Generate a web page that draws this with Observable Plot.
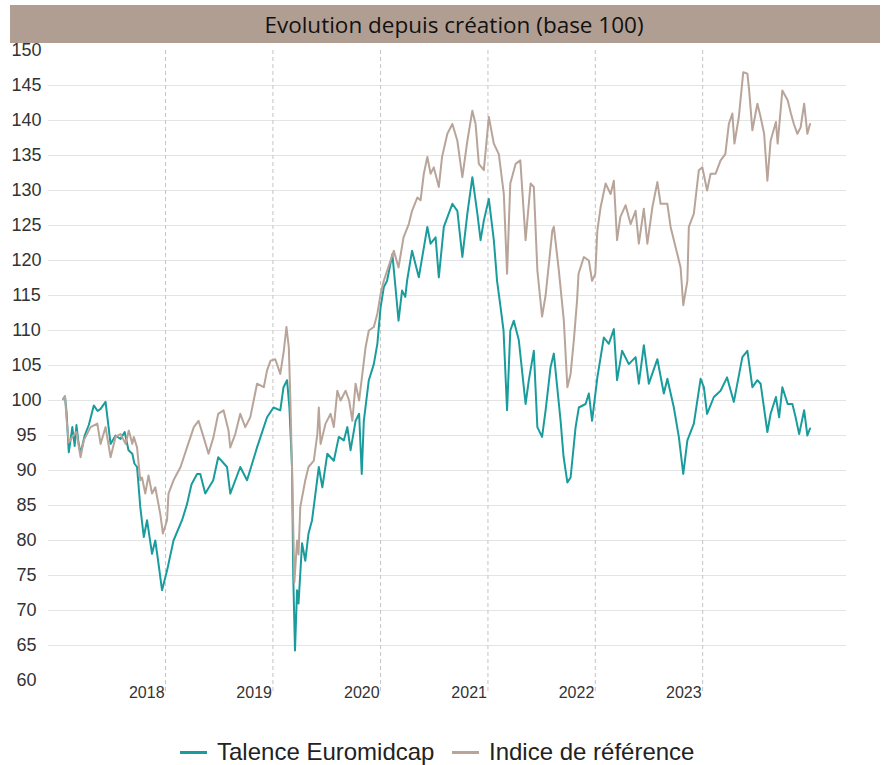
<!DOCTYPE html>
<html>
<head>
<meta charset="utf-8">
<script src="https://cdn.jsdelivr.net/npm/d3@7"></script>
<script src="https://cdn.jsdelivr.net/npm/@observablehq/plot@0.6"></script>
<style>
  html, body { margin: 0; padding: 0; background: #fff; }
  body { width: 891px; height: 765px; position: relative; overflow: hidden; font-family: "Liberation Sans", Arial, sans-serif; }
  #title { position: absolute; z-index: 2; left: 10px; top: 5px; width: 870px; height: 38px; background: #b19e92; color: #111;
           font-family: "Open Sans", sans-serif; font-size: 22.5px; line-height: 40px; text-align: center; padding-left: 18px; box-sizing: border-box; }
  #chart { position: absolute; z-index: 1; left: 0; top: 30px; }
  #chart svg { overflow: visible; }
  #legend { position: absolute; left: 0; top: 737px; width: 891px; height: 30px; line-height: 30px; font-size: 24px; color: #222; }
  .item { position: absolute; top: 0; white-space: nowrap; }
  .sw { display: inline-block; width: 27px; height: 2.5px; vertical-align: middle; margin-right: 10px; position: relative; top: -1px; }
</style>
</head>
<body>
<div id="title">Evolution depuis création (base 100)</div>
<div id="chart"></div>
<div id="legend"></div>
<script>
const seriesNames = ["Talence Euromidcap", "Indice de référence"];
const seriesColors = ["#1a9c9d", "#b8a499"];
const yearLabels = ["2018", "2019", "2020", "2021", "2022", "2023"];
const yearBoundaries = ["2019-01-01", "2020-01-01", "2021-01-01", "2022-01-01", "2023-01-01", "2024-01-01"];
const yTicks = [60, 65, 70, 75, 80, 85, 90, 95, 100, 105, 110, 115, 120, 125, 130, 135, 140, 145, 150];

const fundDates = ["2018-01-18","2018-01-24","2018-01-29","2018-02-06","2018-02-18","2018-02-26","2018-03-04","2018-03-11","2018-03-18","2018-04-01","2018-04-15","2018-05-02","2018-05-15","2018-05-25","2018-06-11","2018-06-28","2018-07-15","2018-08-01","2018-08-15","2018-08-28","2018-09-10","2018-09-17","2018-09-26","2018-10-07","2018-10-19","2018-10-30","2018-11-16","2018-11-27","2018-12-07","2018-12-20",
"2019-01-06","2019-01-28","2019-02-26","2019-03-15","2019-03-30","2019-04-18","2019-04-29","2019-05-16","2019-06-12","2019-06-29","2019-07-29","2019-08-09","2019-09-12","2019-10-05","2019-11-08","2019-12-12",
"2020-01-03","2020-01-26","2020-02-06","2020-02-18","2020-02-26","2020-03-06","2020-03-10","2020-03-16","2020-03-23","2020-03-28","2020-04-09","2020-04-20","2020-05-01","2020-05-13","2020-06-05","2020-06-17","2020-07-04","2020-07-26","2020-08-12","2020-08-29","2020-09-10","2020-09-21","2020-10-08","2020-10-20","2020-10-29","2020-11-05","2020-11-22","2020-12-09","2020-12-21",
"2021-01-01","2021-01-12","2021-01-23","2021-02-10","2021-02-21","2021-03-03","2021-03-15","2021-03-26","2021-04-01","2021-04-18","2021-05-11","2021-06-09","2021-06-20","2021-07-07","2021-07-18","2021-08-04","2021-09-02","2021-09-19","2021-10-06","2021-10-23","2021-11-09","2021-11-26","2021-12-07","2021-12-18",
"2022-01-04","2022-01-21","2022-02-01","2022-02-13","2022-02-23","2022-03-07","2022-03-18","2022-03-30","2022-04-16","2022-05-09","2022-05-20","2022-06-06","2022-06-18","2022-07-04","2022-07-16","2022-08-02","2022-08-13","2022-09-05","2022-09-15","2022-09-28","2022-10-09","2022-10-26","2022-11-06","2022-11-29","2022-12-10","2022-12-21",
"2023-01-08","2023-01-30","2023-02-16","2023-03-05","2023-03-16","2023-04-02","2023-04-25","2023-05-18","2023-05-29","2023-06-15","2023-07-02","2023-07-31","2023-08-22","2023-09-03","2023-09-25","2023-10-12","2023-10-27","2023-11-10","2023-12-02","2023-12-25",
"2024-01-05","2024-01-16","2024-02-08","2024-03-02","2024-03-24","2024-04-16","2024-05-15","2024-06-01","2024-06-18","2024-07-05","2024-07-16","2024-08-08","2024-08-19","2024-09-06","2024-09-17","2024-09-28","2024-10-16","2024-11-01","2024-11-12","2024-11-24","2024-12-11","2024-12-22","2024-12-31"];
const fundValues = [100.2,100.6,98.5,92.6,96.2,93.5,96.5,94,92.4,95,96.5,99.3,98.5,98.8,99.8,93.8,95,94.5,95.5,92.9,92.4,91,90.5,84.8,80.5,82.9,78.1,80,77,72.9,
75.7,80,82.9,85.2,88,89.5,89.5,86.7,88.6,91.9,90.5,86.7,90.5,88.6,93.3,97.6,
99,98.6,101.9,102.9,99,90.5,75,64.3,72.9,71,79.6,77.1,81,82.9,90.5,87.6,92.4,91.4,94.8,94.3,96.2,92.9,97.1,98.1,89.5,97.1,102.9,105.2,108.1,
113.3,116.2,117.1,120.9,116,111.4,115.7,114.8,117.1,121.4,117.6,124.8,122.4,123.3,117.6,124.8,128.1,127.1,120.5,126.7,131.9,126.7,122.9,125.7,
128.8,122.9,117.1,113.3,110,98.6,110,111.4,108.6,99.5,102.9,107.1,96.2,94.8,98.6,104.8,106.7,97.1,92,88.3,89,96.2,99,99.5,101,97.1,
103.3,109,108.1,110.2,102.9,107.1,105.2,106.2,102.4,107.9,102.4,105.9,101,103.1,99,94.8,89.5,94.3,96.7,103.1,
101.9,98.1,100.5,101.4,103.3,99.8,106.2,107.1,101.9,102.9,102.4,95.5,98.1,100.5,97.6,101.9,99.5,99.5,97.6,95.2,98.6,95,96];

const indexDates = ["2018-01-18","2018-01-24","2018-01-30","2018-02-06","2018-02-18","2018-03-04","2018-03-18","2018-03-29","2018-04-21","2018-05-14","2018-05-25","2018-06-11","2018-06-28","2018-07-15","2018-08-01","2018-08-18","2018-08-29","2018-09-10","2018-09-15","2018-09-26","2018-10-07","2018-10-13","2018-10-24","2018-11-04","2018-11-16","2018-11-27","2018-12-14","2018-12-23",
"2019-01-06","2019-01-11","2019-01-28","2019-02-21","2019-03-15","2019-04-07","2019-04-23","2019-05-10","2019-05-27","2019-06-13","2019-06-29","2019-07-17","2019-08-03","2019-08-09","2019-08-26","2019-09-12","2019-09-29","2019-10-16","2019-11-08","2019-12-01","2019-12-12","2019-12-24",
"2020-01-09","2020-01-26","2020-02-07","2020-02-16","2020-02-24","2020-03-01","2020-03-07","2020-03-14","2020-03-23","2020-03-28","2020-04-03","2020-04-20","2020-05-01","2020-05-19","2020-05-31","2020-06-05","2020-06-11","2020-06-28","2020-07-15","2020-07-26","2020-08-07","2020-08-18","2020-09-04","2020-09-16","2020-09-27","2020-10-08","2020-10-20","2020-10-31","2020-11-11","2020-11-22","2020-12-09","2020-12-21",
"2021-01-01","2021-01-12","2021-02-15","2021-03-03","2021-03-20","2021-04-07","2021-04-18","2021-05-06","2021-05-17","2021-05-28","2021-06-09","2021-06-20","2021-07-01","2021-07-18","2021-07-29","2021-08-16","2021-09-02","2021-09-19","2021-10-06","2021-10-23","2021-11-09","2021-11-20","2021-12-01","2021-12-18",
"2022-01-04","2022-01-21","2022-02-07","2022-02-24","2022-03-07","2022-03-18","2022-04-05","2022-04-21","2022-05-09","2022-05-26","2022-06-06","2022-06-18","2022-07-04","2022-07-16","2022-08-08","2022-08-13","2022-08-30","2022-09-16","2022-09-28","2022-10-09","2022-10-20","2022-10-31","2022-11-05","2022-11-23","2022-12-10","2022-12-21",
"2023-01-01","2023-01-08","2023-01-19","2023-02-05","2023-02-22","2023-03-05","2023-03-16","2023-03-27","2023-04-14","2023-05-01","2023-05-18","2023-05-29","2023-06-15","2023-06-27","2023-07-14","2023-07-31","2023-08-11","2023-09-03","2023-09-14","2023-10-01","2023-10-18","2023-10-27","2023-11-10","2023-11-15","2023-12-02","2023-12-19","2023-12-31",
"2024-01-16","2024-01-28","2024-02-14","2024-03-02","2024-03-18","2024-03-30","2024-04-11","2024-04-18","2024-05-03","2024-05-18","2024-06-01","2024-06-07","2024-06-18","2024-07-05","2024-07-16","2024-07-28","2024-08-08","2024-08-19","2024-09-06","2024-09-12","2024-09-28","2024-10-16","2024-10-27","2024-11-06","2024-11-18","2024-11-29","2024-12-11","2024-12-22","2024-12-31"];
const indexValues = [100.2,100.6,97.1,94,94.8,95.5,91.9,94.3,96.2,96.7,93.8,96.2,91.9,94.8,95.2,93.8,95.7,93.8,94.8,93.3,88.6,89,86.7,89.3,86.7,87.6,83.8,81,
82.9,86.7,88.6,90.5,93.3,96.2,97.1,94.8,92.4,94.8,98.1,98.6,95.7,93.3,95.2,98.1,96.2,97.6,102.4,101.9,104.3,105.7,
105.9,103.8,107.1,110.5,107.6,99,88,74,80,78,84.8,88.6,90.5,91.4,95.2,99,93.8,96.7,98.1,96.2,101.4,100,101.4,100,97.1,102.4,100,103.8,107.6,110,110.5,112.4,
115.2,117.1,121.4,119,123.3,125.2,127.1,129,128.6,132.4,134.8,132.4,133.3,130.5,134.8,138.1,139.5,137.1,131.9,137.1,141.4,139.5,133.8,132.9,
140.5,136.7,135.2,129.5,118.1,131,133.8,134.3,122.9,131,130.5,118.6,112,115,124.3,124.8,118.6,111.4,101.9,103.8,108.6,114.3,118.1,120.5,120,117.1,
118.1,124.3,127.6,131,129.5,131.4,122.9,126.2,127.9,125.2,127.1,122.4,127.4,122.4,127.6,131.2,128.1,128.1,124.8,121.9,119,113.6,117.1,124.8,126.7,132.9,133.3,
130,132.4,132.4,134.3,135.2,139.5,141,136.7,140.5,146.9,146.7,144.3,138.6,142.4,140.5,138.1,131.4,137.1,139.8,136.7,144.3,142.9,141,139.5,138.1,139,142.4,138.1,139.5];

const parse = d3.utcParse("%Y-%m-%d");
const data = [
  ...fundDates.map((d, i) => ({date: parse(d), value: fundValues[i], series: seriesNames[0]})),
  ...indexDates.map((d, i) => ({date: parse(d), value: indexValues[i], series: seriesNames[1]}))
];
const bounds = yearBoundaries.map((d, i) => ({date: parse(d), label: yearLabels[i]}));

const chart = Plot.plot({
  width: 891,
  height: 695,
  marginLeft: 48,
  marginRight: 45,
  marginTop: 20,
  marginBottom: 45,
  style: {fontFamily: "'Liberation Sans', Arial, sans-serif", background: "transparent", overflow: "visible"},
  x: {type: "utc", domain: [parse("2017-11-29"), parse("2025-05-04")], axis: null},
  y: {domain: [60, 150], axis: null},
  color: {domain: seriesNames, range: seriesColors},
  marks: [
    Plot.gridY(yTicks.filter(t => t > 60 && t < 150), {stroke: "#e4e4e4", strokeOpacity: 1, strokeWidth: 1}),
    Plot.ruleX(bounds, {x: "date", y1: 150, y2: 58.3, stroke: "#c4c4c4", strokeWidth: 1, strokeDasharray: "4,3"}),
    Plot.axisY(yTicks, {tickSize: 0, tickPadding: 22, textAnchor: "middle", fontSize: 18, fill: "#333", label: null}),
    Plot.text(bounds, {x: "date", y: 60, text: "label", textAnchor: "end", dy: 12, dx: -1, fontSize: 16, fill: "#333"}),
    Plot.line(data, {x: "date", y: "value", z: "series", stroke: "series", strokeWidth: 2, curve: "linear"})
  ]
});
document.getElementById("chart").appendChild(chart);

const legend = document.getElementById("legend");
const lefts = [180, 452];
seriesNames.forEach((name, i) => {
  const it = document.createElement("div");
  it.className = "item";
  it.style.left = lefts[i] + "px";
  const sw = document.createElement("span");
  sw.className = "sw";
  sw.style.background = seriesColors[i];
  it.appendChild(sw);
  it.appendChild(document.createTextNode(name));
  legend.appendChild(it);
});
</script>
</body>
</html>
